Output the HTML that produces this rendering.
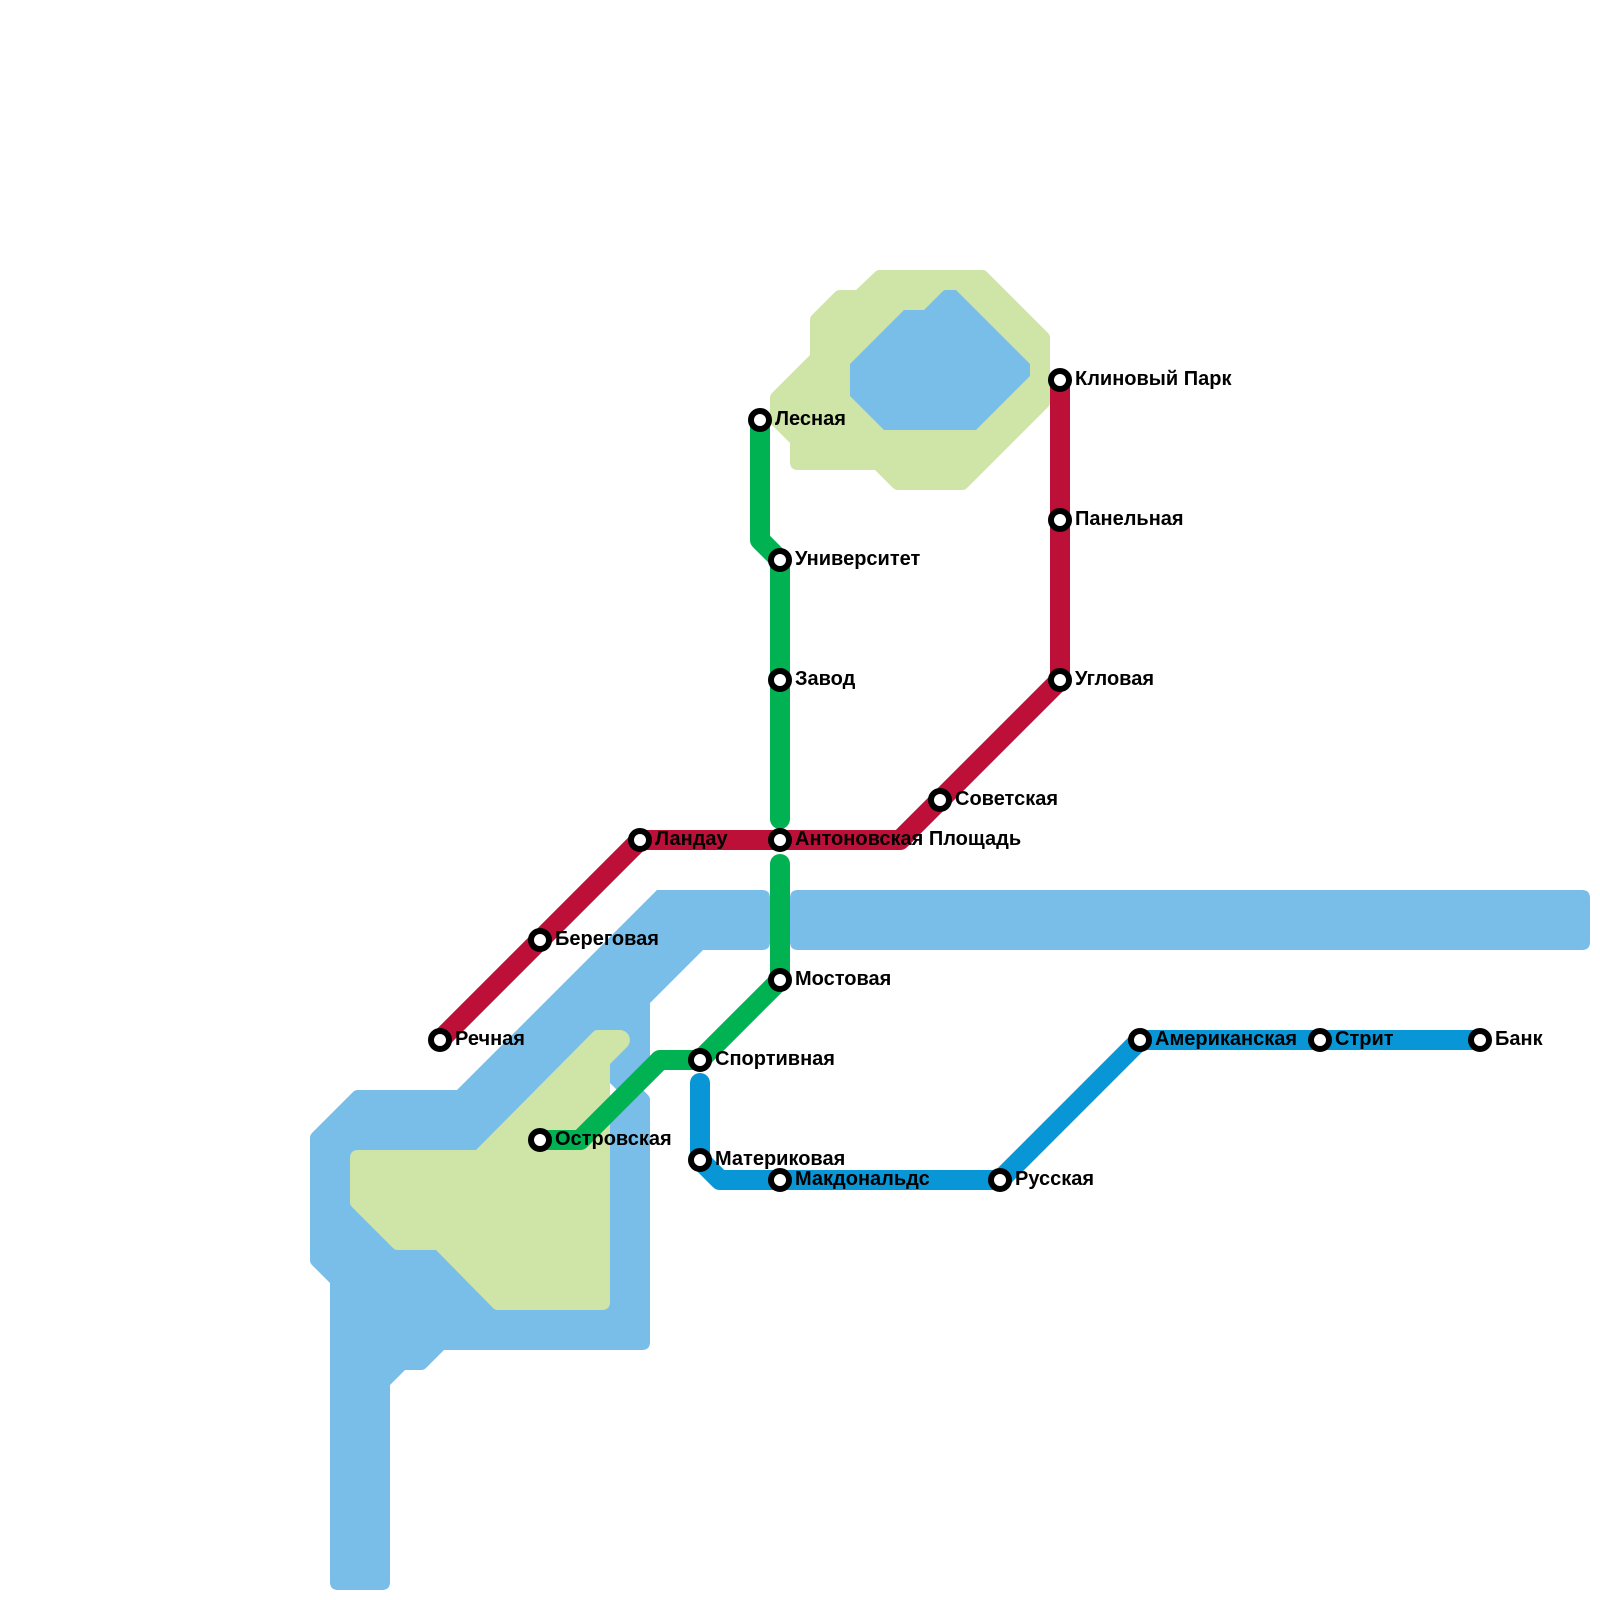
<!DOCTYPE html>
<html lang="ru">
<head>
<meta charset="utf-8">
<title>Metro map</title>
<style>
html,body{margin:0;padding:0;background:#fff}
svg{display:block}
text{font-family:"Liberation Sans","Noto Sans CJK SC",sans-serif;font-weight:bold;font-size:20px;fill:#000}
.l{fill:none;stroke-width:20;stroke-linejoin:round}
.s{fill:#fff;stroke:#000;stroke-width:6}
</style>
</head>
<body>
<svg xmlns="http://www.w3.org/2000/svg" width="1600" height="1600" viewBox="0 0 1600 1600">
<rect width="1600" height="1600" fill="#fff"/>
<!-- water -->
<path fill="#79bde9" d="M657 890H762Q770 890 770 898V942Q770 950 762 950H703L650 1003V1070L620 1093L610 1083V1100L643 1090L648 1095Q650 1097 650 1100V1342Q650 1350 642 1350H444L426 1368Q424 1370 421 1370H405L390 1385V1582Q390 1590 382 1590H338Q330 1590 330 1582V1283L312 1265Q310 1263 310 1260V1138Q310 1135 312 1133L353 1092Q355 1090 358 1090H457Z"/>
<path fill="#79bde9" d="M798 890H1582Q1590 890 1590 898V942Q1590 950 1582 950H798Q790 950 790 942V898Q790 890 798 890Z"/>
<!-- parks -->
<path fill="#cfe4a7" d="M597 1030H620A10 10 0 0 1 627 1047L610 1064V1302Q610 1310 602 1310H497Q495 1310 493 1308L436 1250H397Q395 1250 393 1248L352 1207Q350 1205 350 1202V1158Q350 1150 358 1150H476L593 1032Q595 1030 597 1030Z"/>
<path fill="#cfe4a7" d="M879 270H983Q985 270 987 272L1048 333Q1050 335 1050 338V402Q1050 405 1048 407L967 488Q965 490 962 490H898Q895 490 893 488L875 470H798Q790 470 790 462V443L772 425Q770 423 770 420V398Q770 395 772 393L810 355V320Q810 317 812 315L835 292Q837 290 840 290H856L875 272Q877 270 879 270Z"/>
<path fill="#79bde9" d="M945 290H956L1030 364V376L976 430H884L850 396V364L904 310H924L943 291Z"/>
<!-- lines -->
<path class="l" stroke="#bd1038" d="M440 1040L640 840H900L1060 680V380"/>
<path class="l" stroke="#00b251" stroke-linecap="round" d="M760 420V540L780 560V819"/>
<path class="l" stroke="#00b251" stroke-linecap="round" d="M780 864V980L700 1060H660L580 1140H540"/>
<path class="l" stroke="#0896d7" stroke-linecap="round" d="M700 1083V1160L720 1180H1000L1140 1040H1480"/>
<!-- stations -->
<g class="s">
<circle cx="440" cy="1040" r="9"/>
<circle cx="540" cy="940" r="9"/>
<circle cx="640" cy="840" r="9"/>
<circle cx="780" cy="840" r="9"/>
<circle cx="940" cy="800" r="9"/>
<circle cx="1060" cy="680" r="9"/>
<circle cx="1060" cy="520" r="9"/>
<circle cx="1060" cy="380" r="9"/>
<circle cx="760" cy="420" r="9"/>
<circle cx="780" cy="560" r="9"/>
<circle cx="780" cy="680" r="9"/>
<circle cx="780" cy="980" r="9"/>
<circle cx="700" cy="1060" r="9"/>
<circle cx="540" cy="1140" r="9"/>
<circle cx="700" cy="1160" r="9"/>
<circle cx="780" cy="1180" r="9"/>
<circle cx="1000" cy="1180" r="9"/>
<circle cx="1140" cy="1040" r="9"/>
<circle cx="1320" cy="1040" r="9"/>
<circle cx="1480" cy="1040" r="9"/>
</g>
<!-- labels -->
<text x="455" y="1045">Речная</text>
<text x="555" y="945">Береговая</text>
<text x="655" y="845">Ландау</text>
<text x="795" y="845">Антоновская Площадь</text>
<text x="955" y="805">Советская</text>
<text x="1075" y="685">Угловая</text>
<text x="1075" y="525">Панельная</text>
<text x="1075" y="385">Клиновый Парк</text>
<text x="775" y="425">Лесная</text>
<text x="795" y="565">Университет</text>
<text x="795" y="685">Завод</text>
<text x="795" y="985">Мостовая</text>
<text x="715" y="1065">Спортивная</text>
<text x="555" y="1145">Островская</text>
<text x="715" y="1165">Материковая</text>
<text x="795" y="1185">Макдональдс</text>
<text x="1015" y="1185">Русская</text>
<text x="1155" y="1045">Американская</text>
<text x="1335" y="1045">Стрит</text>
<text x="1495" y="1045">Банк</text>
</svg>
</body>
</html>
